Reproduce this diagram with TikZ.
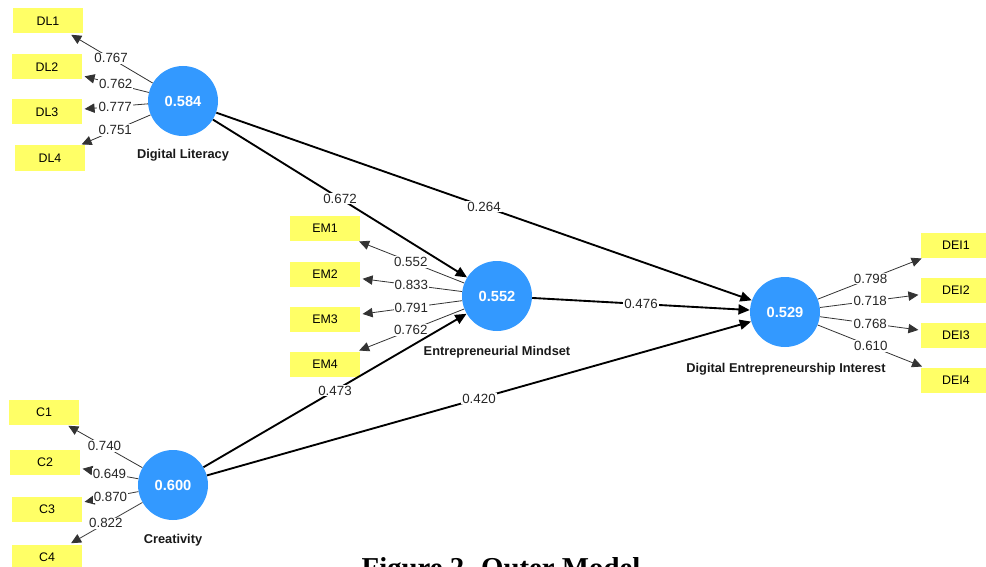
\documentclass[tikz,border=0pt]{standalone}
\usepackage{fontspec}
\setmainfont{Liberation Sans}
\newfontfamily\capfont{Liberation Serif}
\usetikzlibrary{arrows.meta}
\definecolor{lvblue}{RGB}{51,153,255}
\definecolor{mvyellow}{RGB}{255,255,102}
\tikzset{
  latent/.style={circle, fill=lvblue, minimum size=52.5pt, inner sep=0pt,
    text=white, font=\fontsize{11}{13}\selectfont\bfseries},
  indicator/.style={rectangle, fill=mvyellow, minimum width=53pt,
    minimum height=18.75pt, inner sep=0pt, font=\fontsize{9.3}{11}\selectfont},
  lvname/.style={font=\fontsize{9.6}{11}\selectfont\bfseries, text=black!90},
  coef/.style={fill=white, inner sep=0.8pt, font=\fontsize{10}{11}\selectfont, text=black!85},
  structarrow/.style={-{Triangle[length=8.5pt,width=7.5pt]}, line width=1.4pt},
  loadarrow/.style={-{Triangle[length=7.5pt,width=7pt]}, line width=0.6pt, draw=black!80, shorten >=1.5pt},
}

\begin{document}
\begin{tikzpicture}[x=0.75pt, y=-0.75pt]
\useasboundingbox (0,0) rectangle (986,567);
\clip (0,0) rectangle (986,567);

% latent variables
\node [latent] (dl)  at (183,101) {0.584};
\node [latent] (em)  at (497,296) {0.552};
\node [latent] (cr)  at (173,485) {0.600};
\node [latent] (dei) at (785,312) {0.529};

\node [lvname] (dlname)  at (183,155) {Digital Literacy};
\node [lvname] (emname)  at (497,352) {Entrepreneurial Mindset};
\node [lvname] (crname)  at (173,540) {Creativity};
\node [lvname] (deiname) at (786,369) {Digital Entrepreneurship Interest};

% indicators
\node [indicator] (dl1) at (48,21)  {DL1};
\node [indicator] (dl2) at (47,67)  {DL2};
\node [indicator] (dl3) at (47,112) {DL3};
\node [indicator] (dl4) at (50,158) {DL4};

\node [indicator] (em1) at (325,228) {EM1};
\node [indicator] (em2) at (325,274) {EM2};
\node [indicator] (em3) at (325,319) {EM3};
\node [indicator] (em4) at (325,364) {EM4};

\node [indicator] (c1) at (44,412) {C1};
\node [indicator] (c2) at (45,462) {C2};
\node [indicator] (c3) at (47,509) {C3};
\node [indicator] (c4) at (47,557) {C4};

\node [indicator] (dei1) at (956,245) {DEI1};
\node [indicator] (dei2) at (956,290) {DEI2};
\node [indicator] (dei3) at (956,335) {DEI3};
\node [indicator] (dei4) at (956,380) {DEI4};

% outer loadings
\draw [loadarrow] (dl) -- node [coef] {0.767} (dl1);
\draw [loadarrow] (dl) -- node [coef] {0.762} (dl2);
\draw [loadarrow] (dl) -- node [coef] {0.777} (dl3);
\draw [loadarrow] (dl) -- node [coef] {0.751} (dl4);

\draw [loadarrow] (em) -- node [coef] {0.552} (em1);
\draw [loadarrow] (em) -- node [coef] {0.833} (em2);
\draw [loadarrow] (em) -- node [coef] {0.791} (em3);
\draw [loadarrow] (em) -- node [coef] {0.762} (em4);

\draw [loadarrow] (cr) -- node [coef] {0.740} (c1);
\draw [loadarrow] (cr) -- node [coef] {0.649} (c2);
\draw [loadarrow] (cr) -- node [coef] {0.870} (c3);
\draw [loadarrow] (cr) -- node [coef] {0.822} (c4);

\draw [loadarrow] (dei) -- node [coef] {0.798} (dei1);
\draw [loadarrow] (dei) -- node [coef] {0.718} (dei2);
\draw [loadarrow] (dei) -- node [coef] {0.768} (dei3);
\draw [loadarrow] (dei) -- node [coef] {0.610} (dei4);

% path coefficients
\draw [structarrow] (dl) -- node [coef] {0.672} (em);
\draw [structarrow] (dl) -- node [coef] {0.264} (dei);
\draw [structarrow] (em) -- node [coef] {0.476} (dei);
\draw [structarrow] (cr) -- node [coef] {0.473} (em);
\draw [structarrow] (cr) -- node [coef] {0.420} (dei);

% caption, cut off at the bottom
\node [anchor=base, font=\capfont\fontsize{21.6}{24}\selectfont\bfseries] (caption) at (501,577) {Figure 2. Outer Model};

\end{tikzpicture}
\end{document}
